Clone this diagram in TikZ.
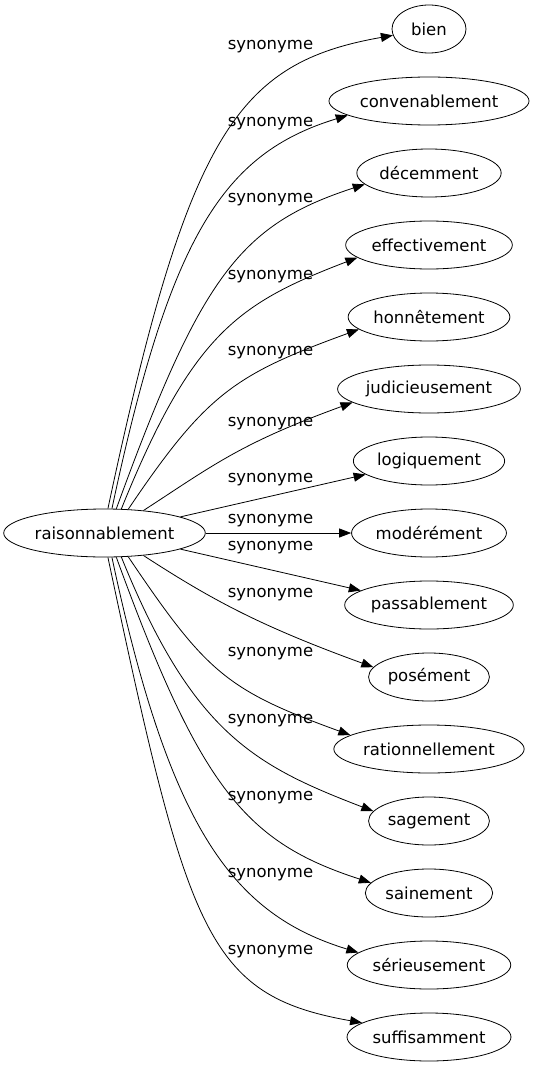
\documentclass[tikz,border=0pt]{standalone}
\usepackage{fontspec}
\setmainfont{DejaVu Sans}
\usetikzlibrary{arrows.meta,shapes.geometric}
\tikzset{
  word node/.style={
    draw, ellipse, line width=0.8pt,
    inner xsep=1.5pt, inner ysep=0pt,
    minimum width=74pt, minimum height=48pt,
    font=\fontsize{16.5}{19}\selectfont,
  },
  syn label/.style={font=\fontsize{16.5}{19}\selectfont, inner sep=0pt},
  syn edge/.style={-{Triangle[length=12pt,width=9pt]}, line width=0.8pt},
}

\begin{document}
\begin{tikzpicture}[x=1pt,y=1pt]

\useasboundingbox (0,0) rectangle (533,-1067);

% --- SOURCE WORD ---
\node[word node] (raison) at (104.5,-533) {raisonnablement};

% --- SYNONYMS (one column, 72pt apart) ---
\node[word node] (bien)   at (429,-29)   {bien};
\node[word node] (conv)   at (429,-101)  {convenablement};
\node[word node] (decem)  at (429,-173)  {décemment};
\node[word node] (effect) at (429,-245)  {effectivement};
\node[word node] (honnet) at (429,-317)  {honnêtement};
\node[word node] (judic)  at (429,-389)  {judicieusement};
\node[word node] (logiq)  at (429,-461)  {logiquement};
\node[word node] (moder)  at (429,-533)  {modérément};
\node[word node] (passab) at (429,-605)  {passablement};
\node[word node] (posem)  at (429,-677)  {posément};
\node[word node] (ration) at (429,-749)  {rationnellement};
\node[word node] (sagem)  at (429,-821)  {sagement};
\node[word node] (sainem) at (429,-893)  {sainement};
\node[word node] (serieu) at (429,-965)  {sérieusement};
\node[word node] (suffis) at (429,-1037) {suffisamment};

% --- EDGES, upper fan ---
\draw[syn edge] (raison.82) to[out=78,in=190,out distance=385pt,in distance=158pt] (bien.190);
\draw[syn edge] (raison.73) to[out=78,in=197,out distance=280pt,in distance=130pt] (conv.190);
\draw[syn edge] (raison.64) to[out=70,in=198,out distance=248pt,in distance=131pt] (decem.190);
\draw[syn edge] (raison.55) to[out=68,in=201,out distance=190pt,in distance=127pt] (effect.190);
\draw[syn edge] (raison.45) to[out=56,in=200,out distance=140pt,in distance=132pt] (honnet.190);
\draw[syn edge] (raison.30) to[out=33,in=200,out distance=82pt,in distance=120pt] (judic.190);
\draw[syn edge] (raison.12) -- (logiq.192);

% --- EDGE, straight across ---
\draw[syn edge] (raison.east) -- (moder.west);

% --- EDGES, lower fan (mirror of the upper one) ---
\draw[syn edge] (raison.348) -- (passab.168);
\draw[syn edge] (raison.330) to[out=327,in=160,out distance=82pt,in distance=120pt] (posem.170);
\draw[syn edge] (raison.315) to[out=304,in=160,out distance=140pt,in distance=132pt] (ration.170);
\draw[syn edge] (raison.305) to[out=292,in=159,out distance=190pt,in distance=127pt] (sagem.170);
\draw[syn edge] (raison.296) to[out=290,in=162,out distance=248pt,in distance=131pt] (sainem.170);
\draw[syn edge] (raison.287) to[out=282,in=163,out distance=280pt,in distance=130pt] (serieu.170);
\draw[syn edge] (raison.278) to[out=282,in=170,out distance=385pt,in distance=158pt] (suffis.168);

% --- EDGE LABELS ---
\node[syn label] (lab0)  at (270.5,-47)  {synonyme};
\node[syn label] (lab1)  at (270.5,-124) {synonyme};
\node[syn label] (lab2)  at (270.5,-200) {synonyme};
\node[syn label] (lab3)  at (270.5,-277) {synonyme};
\node[syn label] (lab4)  at (270.5,-353) {synonyme};
\node[syn label] (lab5)  at (270.5,-424) {synonyme};
\node[syn label] (lab6)  at (270.5,-480) {synonyme};
\node[syn label] (lab7)  at (270.5,-521) {synonyme};
\node[syn label] (lab8)  at (270.5,-548) {synonyme};
\node[syn label] (lab9)  at (270.5,-595) {synonyme};
\node[syn label] (lab10) at (270.5,-654) {synonyme};
\node[syn label] (lab11) at (270.5,-721) {synonyme};
\node[syn label] (lab12) at (270.5,-798) {synonyme};
\node[syn label] (lab13) at (270.5,-875) {synonyme};
\node[syn label] (lab14) at (270.5,-952) {synonyme};

\end{tikzpicture}
\end{document}
